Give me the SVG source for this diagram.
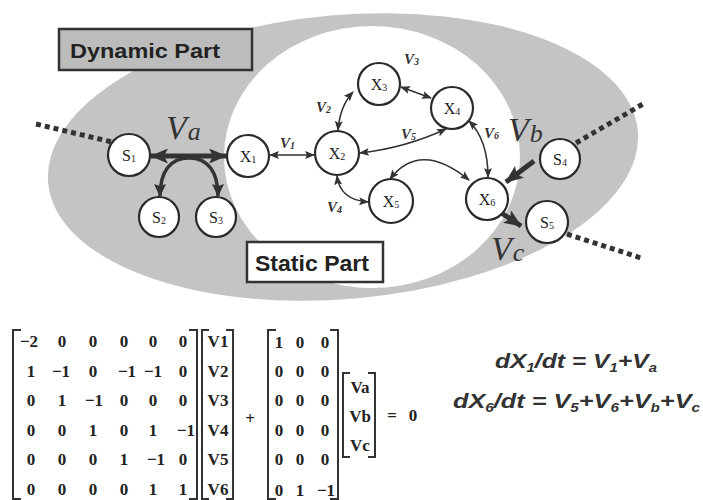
<svg xmlns="http://www.w3.org/2000/svg" width="703" height="500" viewBox="0 0 703 500">
<style>
.node circle{fill:#fff;stroke:#2a2a2a;stroke-width:2.2}
.nl{font-family:"Liberation Serif",serif;font-size:16px;fill:#222;text-anchor:middle}
.nl tspan{font-size:10px}
.vl{font-family:"Liberation Serif",serif;font-style:italic;font-weight:bold;font-size:15px;fill:#333}
.vl tspan{font-size:10px}
.big{font-family:"Liberation Serif",serif;font-style:italic;fill:#333}
.thin{fill:none;stroke:#333;stroke-width:1.6}
.thick{fill:none;stroke:#333;stroke-width:5}
.arch{fill:none;stroke:#333;stroke-width:3.5}
.dot{fill:none;stroke:#333;stroke-width:5;stroke-dasharray:5 4}
.box{font-family:"Liberation Sans",sans-serif;font-weight:bold;fill:#222}
.m{font-family:"Liberation Serif",serif;font-weight:bold;font-size:17px;fill:#222;text-anchor:middle}
.br{fill:none;stroke:#333;stroke-width:2}
.eq{font-family:"Liberation Sans",sans-serif;font-weight:bold;font-style:italic;font-size:20px;fill:#333}
.eq tspan.s{font-size:12px}
</style>
<defs>
<marker id="sa" markerUnits="userSpaceOnUse" markerWidth="10" markerHeight="8" refX="9" refY="4" orient="auto-start-reverse" viewBox="0 0 10 8"><path d="M0,0 L10,4 L0,8 L2,4 Z" fill="#333"/></marker>
<marker id="ba" markerUnits="userSpaceOnUse" markerWidth="18" markerHeight="15" refX="17" refY="7.5" orient="auto-start-reverse" viewBox="0 0 18 15"><path d="M0,0 L18,7.5 L0,15 L4,7.5 Z" fill="#333"/></marker>
<marker id="ma" markerUnits="userSpaceOnUse" markerWidth="13" markerHeight="12" refX="12" refY="6" orient="auto" viewBox="0 0 13 12"><path d="M0,0 L13,6 L0,12 L2,6 Z" fill="#333"/></marker>
</defs>
<rect width="703" height="500" fill="#fff"/>
<g id="background">
<ellipse cx="343" cy="157" rx="296" ry="142" transform="rotate(-5 343 157)" fill="#c4c4c4"/>
<ellipse cx="372" cy="157" rx="148" ry="131" fill="#fff"/>
</g>
<g id="dynamic-label">
<rect x="59" y="29" width="193" height="41" fill="#bcbcbc" stroke="#333" stroke-width="2.5"/>
<text class="box" x="70" y="58" font-size="21" textLength="150" lengthAdjust="spacingAndGlyphs">Dynamic Part</text>
</g>
<g id="static-label">
<rect x="247" y="242" width="136" height="40" fill="#fff" stroke="#333" stroke-width="2.5"/>
<text class="box" x="255" y="271" font-size="22" textLength="114" lengthAdjust="spacingAndGlyphs">Static Part</text>
</g>
<g id="connectors">
<path class="dot" d="M36,124 L112,142"/>
<path class="dot" d="M576,143 L643,104"/>
<path class="dot" d="M567,234 L641,258"/>
<path class="thick" d="M151,156 L226,156" marker-start="url(#ba)" marker-end="url(#ba)"/>
<path class="arch" d="M189,158 C170,158 160,172 160,196" marker-end="url(#ma)"/>
<path class="arch" d="M189,158 C208,158 218,172 218,196" marker-end="url(#ma)"/>
<path class="thin" d="M270,155 L314,155" marker-start="url(#sa)" marker-end="url(#sa)"/>
<path class="thin" d="M338,130 Q340,106 353,92" marker-start="url(#sa)" marker-end="url(#sa)"/>
<path class="thin" d="M401,87 L431,98" marker-start="url(#sa)" marker-end="url(#sa)"/>
<path class="thin" d="M360,153 Q405,148 446,129" marker-start="url(#sa)" marker-end="url(#sa)"/>
<path class="thin" d="M469,121 Q488,140 488,177" marker-start="url(#sa)" marker-end="url(#sa)"/>
<path class="thin" d="M337,176 Q340,200 368,202" marker-start="url(#sa)" marker-end="url(#sa)"/>
<path class="thin" d="M390,179 Q420,140 469,180" marker-start="url(#sa)" marker-end="url(#sa)"/>
<path class="thick" d="M534,161 L506,182" marker-end="url(#ba)"/>
<path class="thick" d="M497,210 L521,226" marker-end="url(#ba)"/>
</g>
<g id="S1" class="node"><circle cx="129" cy="155" r="21"/><text class="nl" x="129" y="161">S<tspan dy="1">1</tspan></text></g>
<g id="S2" class="node"><circle cx="159" cy="217" r="20"/><text class="nl" x="159" y="223">S<tspan dy="1">2</tspan></text></g>
<g id="S3" class="node"><circle cx="216" cy="217" r="20"/><text class="nl" x="216" y="223">S<tspan dy="1">3</tspan></text></g>
<g id="S4" class="node"><circle cx="560" cy="159" r="20"/><text class="nl" x="560" y="165">S<tspan dy="1">4</tspan></text></g>
<g id="S5" class="node"><circle cx="547" cy="222" r="21"/><text class="nl" x="547" y="228">S<tspan dy="1">5</tspan></text></g>
<g id="X1" class="node"><circle cx="248" cy="156" r="21"/><text class="nl" x="248" y="162">X<tspan dy="1">1</tspan></text></g>
<g id="X2" class="node"><circle cx="337" cy="153" r="22"/><text class="nl" x="337" y="159">X<tspan dy="1">2</tspan></text></g>
<g id="X3" class="node"><circle cx="379" cy="84" r="21"/><text class="nl" x="379" y="90">X<tspan dy="1">3</tspan></text></g>
<g id="X4" class="node"><circle cx="452" cy="108" r="21"/><text class="nl" x="452" y="114">X<tspan dy="1">4</tspan></text></g>
<g id="X5" class="node"><circle cx="391" cy="201" r="22"/><text class="nl" x="391" y="207">X<tspan dy="1">5</tspan></text></g>
<g id="X6" class="node"><circle cx="487" cy="199" r="21"/><text class="nl" x="487" y="205">X<tspan dy="1">6</tspan></text></g>
<g id="flux-labels">
<text class="vl" x="280" y="148">V<tspan dy="1">1</tspan></text>
<text class="vl" x="316" y="112">V<tspan dy="1">2</tspan></text>
<text class="vl" x="404" y="64">V<tspan dy="1">3</tspan></text>
<text class="vl" x="327" y="212">V<tspan dy="1">4</tspan></text>
<text class="vl" x="401" y="139">V<tspan dy="1">5</tspan></text>
<text class="vl" x="484" y="138">V<tspan dy="1">6</tspan></text>
<text class="big" x="166" y="139" font-size="34">V<tspan font-size="26" dx="1" dy="1">a</tspan></text>
<text class="big" x="508" y="141" font-size="34">V<tspan font-size="26" dx="1" dy="1">b</tspan></text>
<text class="big" x="491" y="260" font-size="34">V<tspan font-size="26" dx="1" dy="1">c</tspan></text>
</g>
<g id="matrix-S">
<path class="br" d="M21,330 L13,330 L13,499 L21,499"/>
<path class="br" d="M189,330 L197,330 L197,499 L189,499"/>
<g class="m">
<text x="29" y="347">−2</text><text x="62" y="347">0</text><text x="93" y="347">0</text><text x="124" y="347">0</text><text x="153" y="347">0</text><text x="183" y="347">0</text>
<text x="31" y="377">1</text><text x="61" y="377">−1</text><text x="93" y="377">0</text><text x="127" y="377">−1</text><text x="153" y="377">−1</text><text x="183" y="377">0</text>
<text x="31" y="406">0</text><text x="62" y="406">1</text><text x="94" y="406">−1</text><text x="124" y="406">0</text><text x="153" y="406">0</text><text x="183" y="406">0</text>
<text x="31" y="436">0</text><text x="62" y="436">0</text><text x="93" y="436">1</text><text x="124" y="436">0</text><text x="153" y="436">1</text><text x="186" y="436">−1</text>
<text x="31" y="465">0</text><text x="62" y="465">0</text><text x="93" y="465">0</text><text x="124" y="465">1</text><text x="156" y="465">−1</text><text x="183" y="465">0</text>
<text x="31" y="495">0</text><text x="62" y="495">0</text><text x="93" y="495">0</text><text x="124" y="495">0</text><text x="153" y="495">1</text><text x="183" y="495">1</text>
</g>
</g>
<g id="vector-V">
<path class="br" d="M209,330 L202,330 L202,499 L209,499"/>
<path class="br" d="M226,330 L233,330 L233,499 L226,499"/>
<g class="m">
<text x="218" y="347">V1</text><text x="218" y="377">V2</text><text x="218" y="406">V3</text>
<text x="218" y="436">V4</text><text x="218" y="465">V5</text><text x="218" y="495">V6</text>
</g>
</g>
<text class="m" x="250" y="424">+</text>
<g id="matrix-B">
<path class="br" d="M276,330 L268,330 L268,499 L276,499"/>
<path class="br" d="M330,330 L338,330 L338,499 L330,499"/>
<g class="m">
<text x="279" y="348">1</text><text x="300" y="348">0</text><text x="325" y="348">0</text>
<text x="279" y="377">0</text><text x="300" y="377">0</text><text x="325" y="377">0</text>
<text x="279" y="406">0</text><text x="300" y="406">0</text><text x="325" y="406">0</text>
<text x="279" y="436">0</text><text x="300" y="436">0</text><text x="325" y="436">0</text>
<text x="279" y="465">0</text><text x="300" y="465">0</text><text x="325" y="465">0</text>
<text x="279" y="496">0</text><text x="300" y="496">1</text><text x="326" y="496">−1</text>
</g>
</g>
<g id="vector-ext">
<path class="br" d="M350,373 L343,373 L343,457 L350,457"/>
<path class="br" d="M368,373 L375,373 L375,457 L368,457"/>
<g class="m">
<text x="360" y="393">Va</text><text x="360" y="422">Vb</text><text x="360" y="451">Vc</text>
</g>
</g>
<text class="m" x="392" y="421">=</text>
<text class="m" x="413" y="421">0</text>
<g id="equations">
<text class="eq" x="495" y="368" textLength="162" lengthAdjust="spacingAndGlyphs">dX<tspan class="s" dy="4">1</tspan><tspan dy="-4">/dt = V</tspan><tspan class="s" dy="4">1</tspan><tspan dy="-4">+V</tspan><tspan class="s" dy="4">a</tspan></text>
<text class="eq" x="453" y="408" textLength="247" lengthAdjust="spacingAndGlyphs">dX<tspan class="s" dy="4">6</tspan><tspan dy="-4">/dt = V</tspan><tspan class="s" dy="4">5</tspan><tspan dy="-4">+V</tspan><tspan class="s" dy="4">6</tspan><tspan dy="-4">+V</tspan><tspan class="s" dy="4">b</tspan><tspan dy="-4">+V</tspan><tspan class="s" dy="4">c</tspan></text>
</g>
</svg>
